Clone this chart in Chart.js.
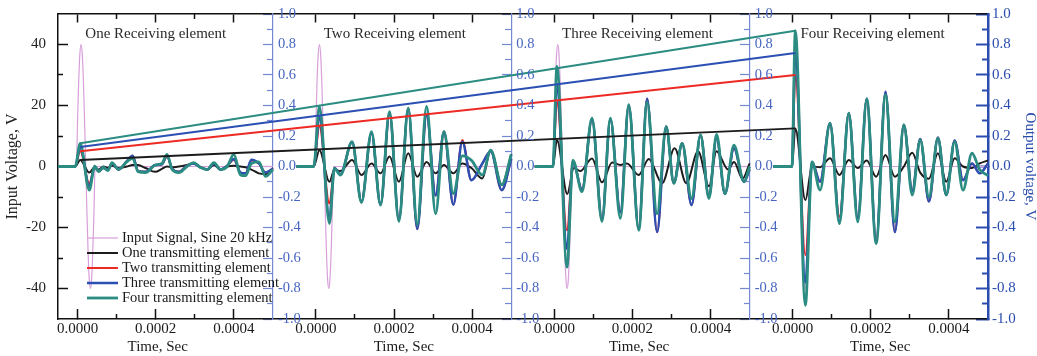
<!DOCTYPE html>
<html><head><meta charset="utf-8">
<script src="https://cdn.jsdelivr.net/npm/chart.js@4.4.1/dist/chart.umd.min.js"></script>
<style>html,body{margin:0;padding:0;background:#fff;}#wrap{position:relative;width:1037px;height:356px;}</style>
</head><body><div id="wrap"><canvas id="c" width="1037" height="356"></canvas></div>
<script>
// ---------------- DATA ----------------
const panelTitles = ['One Receiving element', 'Two Receiving element', 'Three Receiving element', 'Four Receiving element'];
const legendLabels = ['Input Signal, Sine 20 kHz', 'One transmitting element', 'Two transmitting element', 'Three transmitting element', 'Four transmitting element'];
const timeTitle = 'Time, Sec';
const timeMajorTicks = [0, 0.0002, 0.0004];
const timeMinorTicks = [0.0001, 0.0003];
const inputMajorTicks = [-40, -20, 0, 20, 40];
const inputMinorTicks = [-30, -10, 10, 30];
const outputMajorTicks = [-1.0, -0.8, -0.6, -0.4, -0.2, 0.0, 0.2, 0.4, 0.6, 0.8, 1.0];
const outputMinorTicks = [-0.9, -0.7, -0.5, -0.3, -0.1, 0.1, 0.3, 0.5, 0.7, 0.9];

// input signal (time in microseconds, volts) - same burst in every panel
const inputTime = [-50, -3, 0, 3, 6, 9, 12, 15, 18, 21, 24, 27, 30, 33, 36, 39, 42, 45, 500];
const inputVolt = [0, 0, 15, 28, 37, 40, 37, 28, 15, 0, -15, -28, -37, -40, -37, -28, -15, 0, 0];

// Panel 1 : one receiving element (time in microseconds, output volts)
const p1Time  = [-50, -6, 6.8, 30, 44, 54, 66, 78, 88, 105, 126, 141, 155, 174, 199, 216, 229, 242, 259, 280, 297, 314, 332, 349, 366, 383, 400, 417, 430, 445, 464, 481, 500];
const p1Black = [0, 0, 0.043, -0.04, -0.005, -0.02, 0.0, -0.01, 0.005, -0.01, 0.0, 0.01, 0.01, -0.01, -0.035, -0.015, 0.0, -0.005, 0.0, 0.01, 0.02, -0.005, -0.02, 0.01, -0.02, 0.0, 0.005, 0.0, -0.005, -0.02, -0.045, -0.05, -0.01];
const p1Red   = [0, 0, 0.10, -0.11, -0.005, -0.035, -0.01, -0.02, 0.02, -0.02, 0.03, 0.07, -0.03, -0.035, 0.01, 0.015, 0.065, -0.015, -0.035, 0.005, 0.02, -0.005, -0.02, 0.02, -0.02, 0.005, 0.045, -0.04, -0.045, 0.04, 0.02, -0.04, -0.015];
const p1Blue  = [0, 0, 0.128, -0.13, 0.0, -0.03, -0.01, -0.02, 0.02, -0.02, 0.035, 0.07, -0.03, -0.035, 0.01, 0.015, 0.07, -0.015, -0.035, 0.005, 0.02, -0.005, -0.02, 0.02, -0.02, 0.005, 0.05, -0.04, -0.045, 0.045, 0.02, -0.04, -0.015];
const p1Teal  = [0, 0, 0.152, -0.155, 0.003, -0.034, -0.005, -0.027, 0.025, -0.018, 0.03, 0.054, -0.034, -0.04, 0.01, 0.02, 0.08, -0.02, -0.04, 0.0, 0.025, -0.005, -0.02, 0.025, -0.02, 0.0, 0.08, -0.055, -0.06, 0.02, 0.03, -0.065, -0.02];

// Panel 2 : two receiving elements
const p2Time  = [-50, -5.6, 9, 34.6, 47.4, 62.8, 92.7, 116.6, 142.3, 165.4, 188.4, 212.4, 236.3, 259.4, 283.3, 306.4, 327.7, 351.7, 374.7, 398, 426, 447.4, 475.6, 500];
const p2Black = [0, 0, 0.107, -0.1, -0.02, -0.03, 0.043, -0.056, 0.02, -0.045, 0.065, -0.1, 0.087, -0.067, 0.03, -0.045, 0.01, -0.045, 0.02, -0.01, -0.078, 0.107, -0.12, 0.08];
const p2Red   = [0, 0, 0.262, -0.243, -0.01, -0.05, 0.16, -0.23, 0.22, -0.25, 0.35, -0.35, 0.38, -0.41, 0.34, -0.19, 0.23, -0.25, 0.174, -0.09, 0.02, 0.1, -0.155, 0.05];
const p2Blue  = [0, 0, 0.328, -0.34, -0.01, -0.05, 0.16, -0.23, 0.22, -0.25, 0.35, -0.35, 0.38, -0.41, 0.34, -0.19, 0.23, -0.25, 0.163, -0.09, 0.02, 0.1, -0.155, 0.05];
const p2Teal  = [0, 0, 0.394, -0.374, -0.012, -0.056, 0.163, -0.236, 0.229, -0.253, 0.36, -0.359, 0.383, -0.38, 0.394, -0.31, 0.229, -0.177, 0.07, 0.04, -0.056, 0.108, -0.12, 0.08];

// Panel 3 : three receiving elements
const p3Time      = [-50, -3.4, 6.8, 32.5, 47.9, 71, 96.6, 122.2, 143.6, 169.2, 190.6, 216.2, 237.6, 263.2, 286.3, 306, 327.3, 351.3, 374.4, 395.8, 415.4, 436.8, 459.9, 485.6, 500];
const p3BlackTime = [-50, -3.4, 6.8, 33.3, 50, 66.6, 96.6, 122.2, 148, 169, 186, 216, 242, 276, 308, 338, 368, 396, 415, 445, 460, 482, 500];
const p3Black     = [0, 0, 0.174, -0.18, -0.01, -0.03, 0.053, -0.104, 0.027, 0.01, 0.02, -0.056, 0.05, -0.11, 0.12, -0.11, 0.1, -0.13, 0.1, -0.02, 0.03, -0.08, 0.02];
const p3Red       = [0, 0, 0.426, -0.418, 0.03, -0.15, 0.31, -0.35, 0.31, -0.3, 0.4, -0.41, 0.444, -0.43, 0.262, -0.11, 0.152, -0.253, 0.207, -0.2, 0.19, -0.18, 0.12, -0.1, -0.02];
const p3Blue      = [0, 0, 0.536, -0.54, 0.03, -0.15, 0.31, -0.35, 0.31, -0.3, 0.4, -0.41, 0.444, -0.43, 0.262, -0.11, 0.152, -0.253, 0.207, -0.2, 0.19, -0.18, 0.12, -0.1, -0.02];
const p3Teal      = [0, 0, 0.657, -0.66, 0.04, -0.166, 0.317, -0.36, 0.317, -0.34, 0.405, -0.418, 0.42, -0.31, 0.262, -0.11, 0.152, -0.21, 0.207, -0.21, 0.21, -0.177, 0.14, -0.1, 0.0];

// Panel 4 : four receiving elements
const p4Time  = [-50, -1.7, 6.9, 32.6, 49.7, 70.2, 95.8, 119.8, 143.7, 166.8, 189.8, 213.8, 237.7, 261.6, 284.7, 306.1, 326.6, 348.8, 371.9, 393.2, 414.6, 436, 459, 478.7, 500];
const p4Black = [0, 0, 0.25, -0.22, 0.0, -0.005, 0.054, -0.056, 0.043, -0.01, 0.04, -0.067, 0.076, -0.067, 0.0, 0.09, -0.04, -0.08, 0.087, -0.1, 0.054, 0.0, -0.01, 0.02, 0.04];
const p4Red   = [0, 0, 0.6, -0.58, 0.03, -0.1, 0.284, -0.33, 0.35, -0.34, 0.444, -0.49, 0.49, -0.43, 0.273, -0.16, 0.18, -0.23, 0.19, -0.187, 0.17, -0.09, 0.02, -0.045, 0.02];
const p4Blue  = [0, 0, 0.745, -0.76, 0.03, -0.1, 0.284, -0.36, 0.35, -0.34, 0.444, -0.49, 0.49, -0.43, 0.273, -0.16, 0.18, -0.23, 0.19, -0.187, 0.17, -0.09, 0.02, -0.045, 0.02];
const p4Teal  = [0, 0, 0.89, -0.91, 0.03, -0.155, 0.284, -0.374, 0.35, -0.363, 0.444, -0.505, 0.47, -0.363, 0.273, -0.187, 0.174, -0.2, 0.186, -0.187, 0.163, -0.155, 0.087, -0.02, -0.06];

// ---------------- LAYOUT / STYLE ----------------
const SERIF = '"Liberation Serif", "DejaVu Serif", serif';
const US = 1e-6;
const PANEL_SPAN = 0.00061;               // distance between panel origins on the joined time axis
const offsets = [0, 1, 2, 3].map(k => k * PANEL_SPAN);
const X_MIN = -0.00005, X_MAX = 0.00233;
const boundaries = [0.0005, 0.00111, 0.00172];
const timeTitleT = [0.000205, 0.000225, 0.000217, 0.000224];
const COL = { input: '#d8a0da', black: '#1c1c1c', red: '#ee2a24', blue: '#2b4fb3', teal: '#2b8c82' };
const AX_DARK = '#111', AX_BLUE = '#2a4cae', AX_LIGHT = '#7489d2', LBL_LIGHT = '#4765c0';

const panelTimes = [p1Time, p2Time, p3Time, p4Time];
const blackTimes = [p1Time, p2Time, p3BlackTime, p4Time];

function joinPanels(times, values) {
  const pts = [];
  for (let k = 0; k < 4; k++) {
    times[k].forEach((t, i) => pts.push({ x: offsets[k] + t * US, y: values[k][i] }));
    if (k < 3) pts.push({ x: offsets[k] + 0.00053, y: null });
  }
  return pts;
}
const fmt = v => (Math.abs(v) < 1e-9 ? 0 : v).toFixed(1);

const inputPts = joinPanels([inputTime, inputTime, inputTime, inputTime], [inputVolt, inputVolt, inputVolt, inputVolt]);
const blackPts = joinPanels(blackTimes, [p1Black, p2Black, p3Black, p4Black]);
const redPts   = joinPanels(panelTimes, [p1Red, p2Red, p3Red, p4Red]);
const bluePts  = joinPanels(panelTimes, [p1Blue, p2Blue, p3Blue, p4Blue]);
const tealPts  = joinPanels(panelTimes, [p1Teal, p2Teal, p3Teal, p4Teal]);

// straight lines joining first peak of panel 1 with first peak of panel 4
function peakLine(arr1, arr4) {
  return [{ x: offsets[0] + p1Time[2] * US, y: arr1[2] }, { x: offsets[3] + p4Time[2] * US, y: arr4[2] }];
}

const base = { pointRadius: 0, pointHoverRadius: 0, fill: false, spanGaps: false, cubicInterpolationMode: 'monotone', xAxisID: 'x', yAxisID: 'y' };
const datasets = [
  Object.assign({}, base, { label: legendLabels[0], data: inputPts, borderColor: COL.input, borderWidth: 1.2, yAxisID: 'yL', order: 9 }),
  Object.assign({}, base, { label: legendLabels[1], data: blackPts, borderColor: COL.black, borderWidth: 2, order: 8 }),
  Object.assign({}, base, { label: legendLabels[2], data: redPts, borderColor: COL.red, borderWidth: 2, order: 7 }),
  Object.assign({}, base, { label: legendLabels[3], data: bluePts, borderColor: COL.blue, borderWidth: 2.5, order: 6 }),
  Object.assign({}, base, { label: legendLabels[4], data: tealPts, borderColor: COL.teal, borderWidth: 2.8, order: 5 }),
  Object.assign({}, base, { label: 'l1', data: peakLine(p1Black, p4Black), borderColor: COL.black, borderWidth: 2, order: 4, tension: 0 }),
  Object.assign({}, base, { label: 'l2', data: peakLine(p1Red, p4Red), borderColor: COL.red, borderWidth: 2, order: 3, tension: 0 }),
  Object.assign({}, base, { label: 'l3', data: peakLine(p1Blue, p4Blue), borderColor: COL.blue, borderWidth: 2, order: 2, tension: 0 }),
  Object.assign({}, base, { label: 'l4', data: peakLine(p1Teal, p4Teal), borderColor: COL.teal, borderWidth: 2, order: 1, tension: 0 })
];

// tick lists
const xMajor = [], xMajorLbl = [], xMinor = [];
offsets.forEach(o => {
  timeMajorTicks.forEach(t => { xMajor.push(o + t); xMajorLbl.push(t.toFixed(4)); });
  timeMinorTicks.forEach(t => xMinor.push(o + t));
});
const setTicks = vals => s => { s.ticks = vals.map(v => ({ value: v })); };
const noPad = s => { s.paddingTop = 0; s.paddingBottom = 0; s.paddingLeft = 0; s.paddingRight = 0; };

function tickOnlyAxis(axis, position, min, max, vals, tl, color, width, border) {
  return {
    type: 'linear', axis, position, min, max,
    afterBuildTicks: setTicks(vals),
    afterFit: s => { if (axis === 'x') s.height = 0; else s.width = 0; noPad(s); },
    ticks: { display: false },
    grid: { drawOnChartArea: false, tickLength: tl, tickColor: color, tickWidth: width },
    border: border ? { display: true, color: border.color, width: border.width } : { display: false }
  };
}

const scales = {
  x: {
    type: 'linear', position: 'bottom', min: X_MIN, max: X_MAX,
    afterBuildTicks: setTicks(xMajor),
    ticks: { autoSkip: false, maxRotation: 0, minRotation: 0, padding: 11, color: '#1a1a1a',
             font: { family: SERIF, size: 15 }, callback: (v, i) => xMajorLbl[i] },
    grid: { drawOnChartArea: false, tickLength: -10, tickColor: AX_DARK, tickWidth: 1.5 },
    border: { color: AX_DARK, width: 1.5 },
    afterFit: s => { s.height = 37; noPad(s); }
  },
  xm: tickOnlyAxis('x', { y: -1 }, X_MIN, X_MAX, xMinor, -5, AX_DARK, 1.5),
  xt: tickOnlyAxis('x', { y: 1 }, X_MIN, X_MAX, xMajor, 8, AX_DARK, 1.5, { color: AX_DARK, width: 1.5 }),
  xtm: tickOnlyAxis('x', { y: 1 }, X_MIN, X_MAX, xMinor, 5, AX_DARK, 1.5),
  yL: {
    type: 'linear', position: 'left', min: -50, max: 50,
    afterBuildTicks: setTicks(inputMajorTicks),
    ticks: { padding: 22, color: '#222', font: { family: SERIF, size: 15 }, callback: v => String(v) },
    grid: { drawOnChartArea: false, tickLength: -10, tickColor: AX_DARK, tickWidth: 1.5 },
    border: { color: AX_DARK, width: 1.5 },
    title: { display: true, text: 'Input Voltage, V', color: '#222', font: { family: SERIF, size: 16, lineHeight: 1.2 }, padding: { top: 3, bottom: 0 } },
    afterFit: s => { s.width = 58; noPad(s); }
  },
  yLm: tickOnlyAxis('y', { x: X_MIN }, -50, 50, inputMinorTicks, -5, AX_DARK, 1.5),
  y: {
    type: 'linear', position: 'right', min: -1, max: 1,
    afterBuildTicks: setTicks(outputMajorTicks),
    ticks: { padding: 16, color: AX_BLUE, font: { family: SERIF, size: 15 }, callback: v => fmt(v) },
    grid: { drawOnChartArea: false, tickLength: -12, tickColor: AX_BLUE, tickWidth: 2 },
    border: { color: AX_BLUE, width: 2.5 },
    title: { display: true, text: 'Output voltage, V', color: AX_BLUE, font: { family: SERIF, size: 15, lineHeight: 1 }, padding: { top: 0, bottom: 0 } },
    afterFit: s => { s.width = 49; noPad(s); }
  },
  y4m: tickOnlyAxis('y', { x: X_MAX }, -1, 1, outputMinorTicks, 6, AX_BLUE, 2)
};
boundaries.forEach((b, i) => {
  scales['yb' + i] = tickOnlyAxis('y', { x: b }, -1, 1, outputMajorTicks, 9, AX_LIGHT, 1.2, { color: AX_LIGHT, width: 1.2 });
  scales['ybm' + i] = tickOnlyAxis('y', { x: b }, -1, 1, outputMinorTicks, 6, AX_LIGHT, 1.2);
});

const overlay = {
  id: 'overlay',
  afterDraw(chart) {
    const ctx = chart.ctx, xs = chart.scales.x, ys = chart.scales.y;
    ctx.save();
    // output-voltage labels of the inner axes
    ctx.font = '14.5px ' + SERIF; ctx.fillStyle = LBL_LIGHT; ctx.textAlign = 'left'; ctx.textBaseline = 'middle';
    boundaries.forEach(b => {
      const px = xs.getPixelForValue(b);
      outputMajorTicks.forEach(v => ctx.fillText(fmt(v), px + 5, ys.getPixelForValue(v)));
    });
    // panel titles
    ctx.fillStyle = '#2a2a2a'; ctx.font = '15px ' + SERIF;
    panelTitles.forEach((t, k) => ctx.fillText(t, xs.getPixelForValue(offsets[k] + 0.00002), 34));
    // time titles
    ctx.textAlign = 'center'; ctx.fillStyle = '#1a1a1a'; ctx.font = '15px ' + SERIF;
    offsets.forEach((o, k) => ctx.fillText(timeTitle, xs.getPixelForValue(o + timeTitleT[k]), 347));
    // legend
    ctx.textAlign = 'left'; ctx.font = '14.5px ' + SERIF;
    for (let i = 0; i < 5; i++) {
      const ds = chart.data.datasets[i];
      const yy = 238 + i * 15;
      ctx.strokeStyle = ds.borderColor; ctx.lineWidth = ds.borderWidth;
      ctx.beginPath(); ctx.moveTo(87, yy); ctx.lineTo(118, yy); ctx.stroke();
      ctx.fillStyle = '#1a1a1a';
      ctx.fillText(ds.label, 122, yy);
    }
    ctx.restore();
  }
};

new Chart(document.getElementById('c'), {
  type: 'line',
  data: { datasets },
  options: {
    responsive: false, animation: false, devicePixelRatio: 1,
    layout: { padding: { top: 14, left: 0, right: 0, bottom: 0 } },
    events: [],
    plugins: { legend: { display: false }, tooltip: { enabled: false } },
    scales
  },
  plugins: [overlay]
});
</script></body></html>
